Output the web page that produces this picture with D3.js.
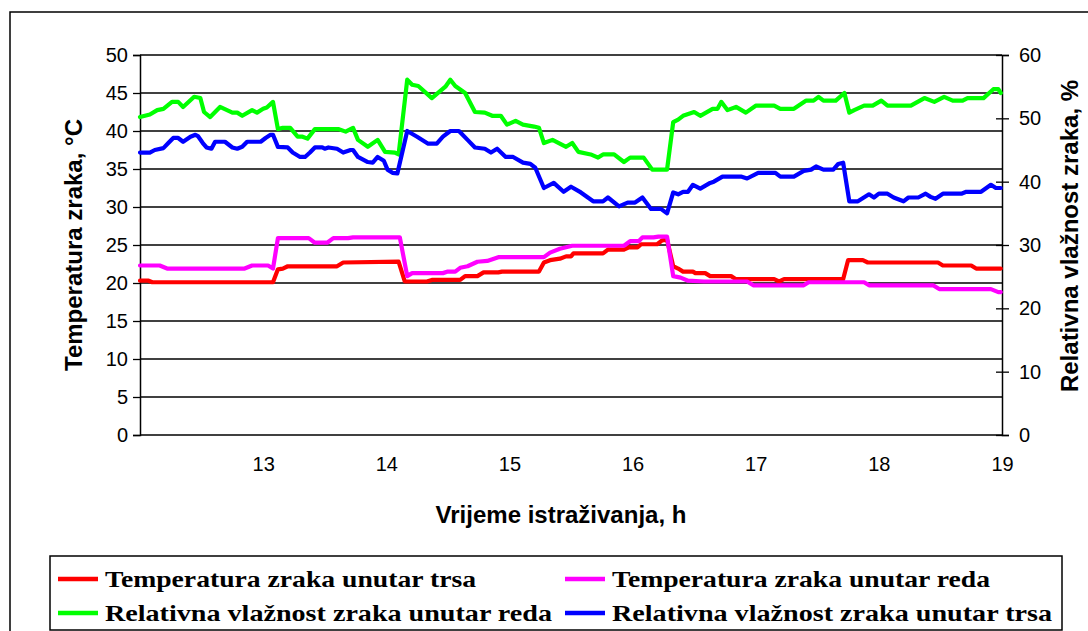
<!DOCTYPE html>
<html><head><meta charset="utf-8">
<script src="https://cdn.jsdelivr.net/npm/d3@7"></script>
<style>body{margin:0;background:#fff}svg{display:block}</style>
</head><body>
<script>
// ---- data ----
const tempTicks = [0,5,10,15,20,25,30,35,40,45,50];
const rhTicks = [0,10,20,30,40,50,60];
const hourTicks = [13,14,15,16,17,18,19];

const redT = [12.00,12.07,12.10,13.08,13.12,13.16,13.20,13.60,13.65,14.10,14.15,14.33,14.37,14.60,14.64,14.74,14.79,14.91,14.94,15.24,15.28,15.33,15.41,15.46,15.50,15.52,15.76,15.80,15.93,15.97,16.04,16.07,16.20,16.24,16.28,16.33,16.37,16.41,16.49,16.51,16.59,16.63,16.80,16.84,17.15,17.19,17.23,17.71,17.75,17.87,17.91,18.48,18.52,18.75,18.79,18.99];
const redV = [20.3,20.3,20.1,20.1,21.8,21.9,22.2,22.2,22.7,22.8,20.2,20.2,20.4,20.4,20.9,20.9,21.4,21.4,21.5,21.5,22.7,23.0,23.2,23.5,23.5,23.9,23.9,24.4,24.4,24.7,24.7,25.1,25.1,25.6,25.7,22.2,21.9,21.5,21.5,21.3,21.3,20.9,20.9,20.5,20.5,20.2,20.5,20.5,23.0,23.0,22.7,22.7,22.3,22.3,21.9,21.9];

const magT = [12.00,12.16,12.22,12.85,12.91,13.04,13.08,13.12,13.37,13.42,13.52,13.57,13.69,13.73,14.11,14.17,14.21,14.46,14.50,14.56,14.60,14.66,14.74,14.82,14.91,15.28,15.33,15.41,15.51,15.93,15.98,16.05,16.08,16.17,16.21,16.28,16.33,16.39,16.45,16.58,16.93,16.98,17.39,17.43,17.88,17.92,18.44,18.49,18.91,18.97,18.99];
const magV = [22.3,22.3,21.9,21.9,22.3,22.3,21.9,25.9,25.9,25.3,25.3,25.9,25.9,26.0,26.0,20.9,21.3,21.3,21.5,21.5,22.0,22.2,22.8,22.9,23.4,23.4,24.0,24.5,24.9,24.9,25.5,25.5,26.0,26.0,26.1,26.1,20.9,20.7,20.3,20.2,20.2,19.7,19.7,20.1,20.1,19.7,19.7,19.2,19.2,18.8,18.8];

const greenT = [12.00,12.08,12.14,12.19,12.26,12.31,12.35,12.44,12.49,12.52,12.57,12.65,12.75,12.79,12.83,12.91,12.95,13.00,13.03,13.08,13.12,13.16,13.22,13.28,13.32,13.36,13.42,13.61,13.67,13.73,13.77,13.85,13.93,13.99,14.07,14.10,14.17,14.21,14.26,14.37,14.48,14.52,14.56,14.64,14.72,14.80,14.86,14.93,14.98,15.05,15.11,15.20,15.24,15.28,15.35,15.46,15.51,15.56,15.66,15.72,15.76,15.85,15.93,15.98,16.09,16.16,16.28,16.33,16.37,16.41,16.50,16.55,16.65,16.69,16.72,16.77,16.84,16.92,17.00,17.15,17.20,17.31,17.41,17.47,17.51,17.55,17.65,17.72,17.76,17.80,17.88,17.95,18.02,18.07,18.26,18.37,18.45,18.53,18.60,18.68,18.72,18.85,18.93,18.97,18.99];
const greenV = [50.2,50.6,51.3,51.5,52.6,52.6,51.8,53.4,53.2,51.0,50.2,51.8,50.9,50.9,50.4,51.3,50.9,51.5,51.7,52.6,48.3,48.5,48.5,47.1,47.1,46.8,48.3,48.3,47.9,48.5,46.6,45.5,46.6,44.7,44.6,44.3,56.1,55.3,55.1,53.2,55.0,56.1,55.1,54.0,51.0,50.9,50.4,50.4,49.0,49.6,49.0,48.7,48.5,46.1,46.6,45.5,46.1,44.7,44.3,43.8,44.3,44.3,43.1,43.8,43.8,41.9,41.9,49.4,49.8,50.4,51.0,50.4,51.5,51.5,52.6,51.3,51.8,50.9,52.0,52.0,51.5,51.5,52.8,52.8,53.4,52.8,52.8,54.0,50.9,51.3,52.0,52.0,52.8,52.0,52.0,53.2,52.6,53.4,52.8,52.8,53.2,53.2,54.6,54.6,54.0];

const blueT = [12.00,12.08,12.12,12.19,12.23,12.27,12.31,12.35,12.41,12.45,12.47,12.51,12.54,12.58,12.61,12.69,12.75,12.79,12.83,12.87,12.98,13.02,13.06,13.08,13.12,13.20,13.24,13.30,13.34,13.38,13.42,13.48,13.50,13.53,13.60,13.65,13.71,13.73,13.77,13.85,13.89,13.93,13.98,14.01,14.05,14.09,14.17,14.25,14.34,14.41,14.46,14.52,14.59,14.66,14.72,14.80,14.85,14.90,14.97,15.03,15.11,15.17,15.21,15.28,15.36,15.44,15.50,15.58,15.68,15.76,15.80,15.89,15.96,16.02,16.08,16.15,16.23,16.28,16.33,16.37,16.41,16.45,16.49,16.55,16.63,16.66,16.73,16.88,16.93,17.02,17.16,17.20,17.31,17.39,17.45,17.49,17.55,17.63,17.67,17.71,17.76,17.83,17.92,17.96,18.00,18.07,18.12,18.20,18.24,18.32,18.38,18.42,18.46,18.52,18.67,18.71,18.83,18.91,18.95,18.99];
const blueV = [44.6,44.6,45.0,45.3,46.1,46.9,46.9,46.3,47.1,47.4,47.2,46.1,45.4,45.2,46.3,46.3,45.4,45.2,45.5,46.3,46.3,46.9,47.4,47.4,45.5,45.4,44.6,43.9,43.9,44.6,45.4,45.4,45.2,45.4,45.2,44.6,45.0,45.0,43.9,43.1,43.0,43.9,43.3,41.9,41.4,41.3,48.0,47.1,46.0,46.0,47.1,48.0,48.0,46.6,45.4,45.2,44.6,45.2,43.9,43.9,43.0,42.8,42.2,39.0,39.8,38.4,39.2,38.3,36.9,36.9,37.5,36.1,36.7,36.7,37.5,35.7,35.7,35.0,38.3,38.0,38.4,38.4,39.5,38.9,39.8,40.0,40.8,40.8,40.5,41.4,41.4,40.8,40.8,41.7,41.9,42.4,41.9,41.9,42.8,43.0,36.9,36.9,38.0,37.5,38.1,38.1,37.5,36.9,37.5,37.5,38.1,37.6,37.3,38.1,38.1,38.4,38.4,39.5,39.0,39.0];

const seriesNames = ["Temperatura zraka unutar trsa","Temperatura zraka unutar reda","Relativna vlažnost zraka unutar reda","Relativna vlažnost zraka unutar trsa"];
const seriesColors = ["#ff0000","#ff00ff","#00ff00","#0000ff"];

// ---- chart ----
const W = 1088, H = 631;
const svg = d3.select("body").append("svg").attr("width", W).attr("height", H);
svg.append("rect").attr("width", W).attr("height", H).attr("fill", "#fff");
// outer frame
svg.append("rect").attr("x", 10).attr("y", 12).attr("width", 1200).attr("height", 800)
  .attr("fill", "none").attr("stroke", "#000").attr("stroke-width", 1.5);

const x = d3.scaleLinear().domain([12, 19]).range([140, 1002]);
const yL = d3.scaleLinear().domain([0, 50]).range([435, 55]);
const yR = d3.scaleLinear().domain([0, 60]).range([435, 55]);

// gridlines
svg.append("g").selectAll("line").data(tempTicks.filter(d => d > 0)).join("line")
  .attr("x1", 140).attr("x2", 1002)
  .attr("y1", d => yL(d)).attr("y2", d => yL(d))
  .attr("stroke", "#000").attr("stroke-width", 1.3);

// left axis
const gL = svg.append("g").attr("transform", "translate(140,0)")
  .call(d3.axisLeft(yL).tickValues(tempTicks).tickSize(7).tickPadding(5));
// right axis
const gR = svg.append("g").attr("transform", "translate(1002,0)")
  .call(d3.axisRight(yR).tickValues(rhTicks).tickSize(7).tickPadding(10));
// bottom axis (labels only)
const gB = svg.append("g").attr("transform", "translate(0,435)")
  .call(d3.axisBottom(x).tickValues(hourTicks).tickFormat(d3.format("d")).tickSize(0).tickPadding(22));
gB.select(".domain").attr("d", "M140,0H1002");

[gL, gR, gB].forEach(g => {
  g.select(".domain").attr("stroke", "#000").attr("stroke-width", 1.5);
  g.selectAll(".tick line").attr("stroke", "#000").attr("stroke-width", 1.3);
  g.selectAll("text").attr("font-family", "Arial, 'Liberation Sans', sans-serif")
    .attr("font-size", 20).attr("fill", "#000");
});
// crossing ticks on right axis
gR.selectAll(".tick line").attr("x1", -6).attr("x2", 7);

// lines
const mk = (T, V, y) => T.map((t, i) => [x(t), y(V[i])]);
const line = d3.line();
const datasets = [mk(redT, redV, yL), mk(magT, magV, yL), mk(greenT, greenV, yR), mk(blueT, blueV, yR)];
svg.append("g").selectAll("path").data(datasets).join("path")
  .attr("d", d => line(d)).attr("fill", "none")
  .attr("stroke", (d, i) => seriesColors[i]).attr("stroke-width", 4.2)
  .attr("stroke-linejoin", "round").attr("stroke-linecap", "round");

// axis titles
const tf = "Arial, 'Liberation Sans', sans-serif";
svg.append("text").attr("transform", "translate(82,245) rotate(-90)")
  .attr("text-anchor", "middle").attr("font-family", tf).attr("font-weight", "bold")
  .attr("font-size", 24).text("Temperatura zraka, °C");
svg.append("text").attr("transform", "translate(1078,236) rotate(-90)")
  .attr("text-anchor", "middle").attr("font-family", tf).attr("font-weight", "bold")
  .attr("font-size", 24).text("Relativna vlažnost zraka, %");
svg.append("text").attr("x", 561).attr("y", 523)
  .attr("text-anchor", "middle").attr("font-family", tf).attr("font-weight", "bold")
  .attr("font-size", 24).text("Vrijeme istraživanja, h");

// legend
svg.append("rect").attr("x", 50).attr("y", 556).attr("width", 1012).attr("height", 74)
  .attr("fill", "#fff").attr("stroke", "#000").attr("stroke-width", 1.5);
const legPos = [[58, 579, 105, 371], [565, 579, 612, 378], [58, 613, 105, 447], [565, 613, 612, 440]];
const lg = svg.append("g").selectAll("g").data(seriesNames).join("g");
lg.append("line").attr("x1", (d, i) => legPos[i][0]).attr("x2", (d, i) => legPos[i][0] + 40)
  .attr("y1", (d, i) => legPos[i][1]).attr("y2", (d, i) => legPos[i][1])
  .attr("stroke", (d, i) => seriesColors[i]).attr("stroke-width", 4.5);
lg.append("text").attr("x", (d, i) => legPos[i][2]).attr("y", (d, i) => legPos[i][1] + 8)
  .attr("font-family", "'Liberation Serif', 'DejaVu Serif', serif").attr("font-weight", "bold")
  .attr("font-size", 24)
  .attr("textLength", (d, i) => legPos[i][3]).attr("lengthAdjust", "spacingAndGlyphs")
  .text(d => d);
</script>
</body></html>
